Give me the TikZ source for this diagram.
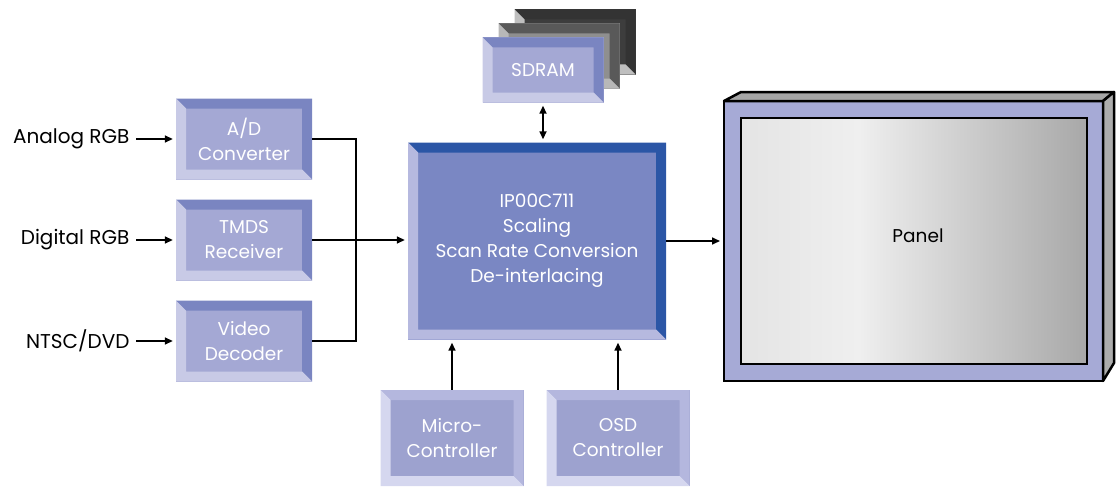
\documentclass[tikz,border=0pt]{standalone}
\usepackage{fontspec}
\setmainfont{Poppins}
\usetikzlibrary{arrows.meta}

\definecolor{boxface}{HTML}{A4A8D4}
\definecolor{boxdark}{HTML}{7A85C1}
\definecolor{boxlight}{HTML}{C8CAE6}
\definecolor{mainface}{HTML}{7A87C3}
\definecolor{maindark}{HTML}{2B56A6}
\definecolor{mainlight}{HTML}{B6B9DF}
\definecolor{ctrlface}{HTML}{9DA2CF}
\definecolor{ctrldark}{HTML}{B4B7DE}
\definecolor{ctrllight}{HTML}{D5D7EF}
\definecolor{bezeltop}{HTML}{A6AAD6}
\definecolor{bezelmid}{HTML}{D3D5EF}
\definecolor{screenleft}{HTML}{E4E4E4}
\definecolor{screenmid}{HTML}{EFEFEF}
\definecolor{screenright}{HTML}{A8A8A8}
\pgfdeclarehorizontalshading{screenshade}{100bp}{color(0bp)=(screenleft); color(25bp)=(screenleft);
  color(42bp)=(screenmid); color(75bp)=(screenright); color(100bp)=(screenright)}

\begin{document}
\begin{tikzpicture}[x=1pt,y=-1pt,
    font=\fontsize{18.5}{25}\selectfont,
    >={Triangle[length=8pt,width=7pt]},
    wire/.style={line width=1.6pt},
    label text/.style={font=\fontsize{20}{25}\selectfont, anchor=east},
    bevel/.style n args={3}{fill=#1, text=white, align=center, inner sep=0pt,
      path picture={
        \fill[#2] (path picture bounding box.north west) -- (path picture bounding box.north east)
          -- (path picture bounding box.south east) -- ([xshift=-10pt,yshift=10pt]path picture bounding box.south east)
          -- ([xshift=-10pt,yshift=-10pt]path picture bounding box.north east)
          -- ([xshift=10pt,yshift=-10pt]path picture bounding box.north west) -- cycle;
        \fill[#3] (path picture bounding box.north west) -- ([xshift=10pt,yshift=-10pt]path picture bounding box.north west)
          -- ([xshift=10pt,yshift=10pt]path picture bounding box.south west)
          -- ([xshift=-10pt,yshift=10pt]path picture bounding box.south east)
          -- (path picture bounding box.south east) -- (path picture bounding box.south west) -- cycle;
      }},
    inbox/.style={bevel={boxface}{boxdark}{boxlight}, minimum width=136, minimum height=81},
    ctrlbox/.style={bevel={ctrlface}{ctrldark}{ctrllight}, minimum width=143, minimum height=96}]
  \useasboundingbox (0,0) rectangle (1116,487);

  % Eingangsbloecke links
  \node[inbox] (ad) at (244,139) {A/D\\Converter};
  \node[inbox] (tmds) at (244,240) {TMDS\\Receiver};
  \node[inbox] (video) at (244,341) {Video\\Decoder};
  \node[label text] (analog) at (133,139) {Analog RGB};
  \node[label text] (digital) at (133,240) {Digital RGB};
  \node[label text] (ntsc) at (133,341) {NTSC/DVD};
  \draw[wire,->,shorten <=3pt,shorten >=3pt] (analog.east) -- (ad.west);
  \draw[wire,->,shorten <=3pt,shorten >=3pt] (digital.east) -- (tmds.west);
  \draw[wire,->,shorten <=3pt,shorten >=3pt] (ntsc.east) -- (video.west);

  % Hauptbaustein
  \node[bevel={mainface}{maindark}{mainlight}, minimum width=258, minimum height=197] (main) at (537,241)
    {IP00C711\\Scaling\\Scan Rate Conversion\\De-interlacing};
  \coordinate (bus) at (356,240);
  \draw[wire] (ad.east) -| (bus) |- (video.east);
  \draw[wire,->,shorten >=3pt] (tmds.east) -- (tmds.east -| main.west);

  % SDRAM-Stapel
  \node[bevel={black!76}{black!80}{black!25}, minimum width=121, minimum height=65] (sdramb) at (575,42) {};
  \node[bevel={black!44}{black!65}{black!28}, minimum width=121, minimum height=65] (sdramm) at (559,56) {};
  \node[inbox, minimum width=121, minimum height=65] (sdram) at (543,70) {SDRAM};
  \draw[wire,<->,shorten <=3pt,shorten >=3pt] (sdram.south) -- (sdram.south |- main.north);

  % Steuerbloecke unten
  \node[ctrlbox] (micro) at (452,438) {Micro-\\Controller};
  \node[ctrlbox] (osd) at (618,438) {OSD\\Controller};
  \draw[wire,->,shorten >=3pt] (micro.north) -- (micro.north |- main.south);
  \draw[wire,->,shorten >=3pt] (osd.north) -- (osd.north |- main.south);

  % Panel
  \node[draw, line width=2.5pt, outer sep=0pt, minimum width=379, minimum height=280,
    top color=bezeltop, middle color=bezelmid, bottom color=bezeltop] (panel) at (913.5,241) {};
  \draw[line width=2.5pt, line join=round, left color=gray!70, middle color=gray!15, right color=gray!70]
    (panel.north west) -- ++(17,-9) -- ([xshift=11pt,yshift=9pt]panel.north east) -- (panel.north east) -- cycle;
  \draw[line width=2.5pt, line join=round, fill=gray!65]
    (panel.north east) -- ++(11,-9) -- ([xshift=11pt,yshift=18pt]panel.south east) -- (panel.south east) -- cycle;
  \node[draw, line width=2.5pt, outer sep=0pt, minimum width=346, minimum height=246,
    shading=screenshade] (screen) at (914,241) {};
  \node (paneltext) at (918,236) {Panel};
  \draw[wire,->,shorten >=4pt] (main.east) -- (main.east -| panel.west);
\end{tikzpicture}
\end{document}
